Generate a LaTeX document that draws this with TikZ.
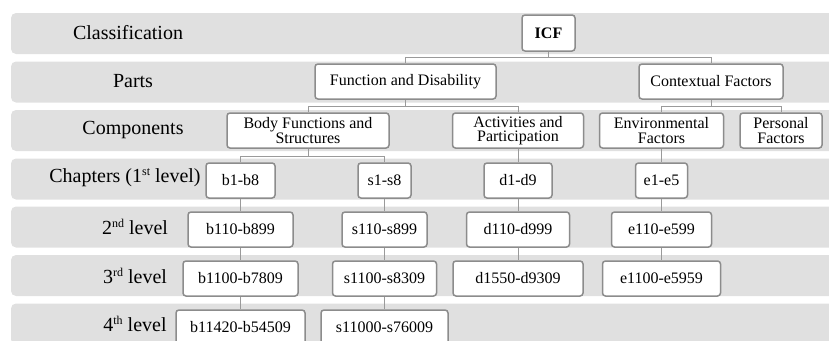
\documentclass[tikz,border=0pt]{standalone}
\usepackage{fontspec}
\setmainfont{Liberation Serif}
\definecolor{bandgray}{HTML}{E0E0E0}
\definecolor{boxgray}{HTML}{8C8C8C}
\definecolor{linegray}{HTML}{9A9A9A}
\newcommand{\ordsup}[1]{\raisebox{0.75ex}{\fontsize{12}{12}\selectfont #1}}
\begin{document}
\begin{tikzpicture}[x=1pt,y=-1pt,
    band/.style={fill=bandgray,rounded corners=5pt},
    rowlabel/.style={font=\fontsize{20}{24}\selectfont},
    box/.style={rectangle,draw=boxgray,line width=1.5pt,fill=white,
      rounded corners=3pt,minimum height=35pt,inner sep=0pt,align=center,
      font=\fontsize{16}{14.5}\selectfont},
    conn/.style={draw=linegray,line width=1pt}]
  \clip (0,0) rectangle (829,340);
  % grey bands, one per level
  \foreach \top in {13,61.5,110,158.5,206.5,255,303.5}
    \fill[band] (11,\top) rectangle (845,\top+41);
  % level names
  \node[rowlabel] (lclass) at (128,32.5) {Classification};
  \node[rowlabel] (lparts) at (133,81) {Parts};
  \node[rowlabel] (lcomp) at (133,130) {Components};
  \node[rowlabel] (lchap) at (125,178) {Chapters (1\ordsup{st} level)};
  \node[rowlabel] (lsec) at (135,227) {2\ordsup{nd} level};
  \node[rowlabel] (lthird) at (135,275.5) {3\ordsup{rd} level};
  \node[rowlabel] (lfourth) at (135,323.5) {4\ordsup{th} level};
  % tree
  \node[box,minimum width=53pt,minimum height=36pt,font=\fontsize{16}{14}\selectfont\bfseries]
    (icf) at (548.5,33) {ICF};
  \node[box,minimum width=181pt] (funcdis) at (405.5,81.5) {Function and Disability};
  \node[box,minimum width=144pt] (context) at (711,81.5) {Contextual Factors};
  \node[box,minimum width=162pt] (bodyfs) at (308,130.5) {Body Functions and\\Structures};
  \node[box,minimum width=131pt] (actpart) at (518,130.5) {Activities and\\Participation};
  \node[box,minimum width=124pt] (envfac) at (661.5,130.5) {Environmental\\Factors};
  \node[box,minimum width=82pt] (persfac) at (781,130.5) {Personal\\Factors};
  \node[box,minimum width=69pt] (bchap) at (240.5,180.5) {b1-b8};
  \node[box,minimum width=53pt] (schap) at (384.5,180.5) {s1-s8};
  \node[box,minimum width=68pt] (dchap) at (518,180.5) {d1-d9};
  \node[box,minimum width=52pt] (echap) at (661.5,180.5) {e1-e5};
  \node[box,minimum width=105pt] (bsec) at (240.5,229.5) {b110-b899};
  \node[box,minimum width=85pt] (ssec) at (384.5,229.5) {s110-s899};
  \node[box,minimum width=103pt] (dsec) at (518,229.5) {d110-d999};
  \node[box,minimum width=100pt] (esec) at (661.5,229.5) {e110-e599};
  \node[box,minimum width=115pt] (bthird) at (240.5,278.5) {b1100-b7809};
  \node[box,minimum width=104pt] (sthird) at (384.5,278.5) {s1100-s8309};
  \node[box,minimum width=130pt] (dthird) at (518,278.5) {d1550-d9309};
  \node[box,minimum width=118pt] (ethird) at (661.5,278.5) {e1100-e5959};
  \node[box,minimum width=129pt] (bfourth) at (240.5,327.5) {b11420-b54509};
  \node[box,minimum width=127pt] (sfourth) at (384.5,327.5) {s11000-s76009};
  % connectors
  \draw[conn] (icf.south) -- ++(0,6) -| (funcdis.north);
  \draw[conn] (icf.south) -- ++(0,6) -| (context.north);
  \draw[conn] (funcdis.south) -- ++(0,7) -| (bodyfs.north);
  \draw[conn] (funcdis.south) -- ++(0,7) -| (actpart.north);
  \draw[conn] (context.south) -- ++(0,7) -| (envfac.north);
  \draw[conn] (context.south) -- ++(0,7) -| (persfac.north);
  \draw[conn] (bodyfs.south) -- ++(0,7.5) -| (bchap.north);
  \draw[conn] (bodyfs.south) -- ++(0,7.5) -| (schap.north);
  \draw[conn] (actpart) -- (dchap);
  \draw[conn] (envfac) -- (echap);
  \foreach \col in {b,s,d,e} {
    \draw[conn] (\col chap) -- (\col sec);
    \draw[conn] (\col sec) -- (\col third);
  }
  \draw[conn] (bthird) -- (bfourth);
  \draw[conn] (sthird) -- (sfourth);
\end{tikzpicture}
\end{document}
